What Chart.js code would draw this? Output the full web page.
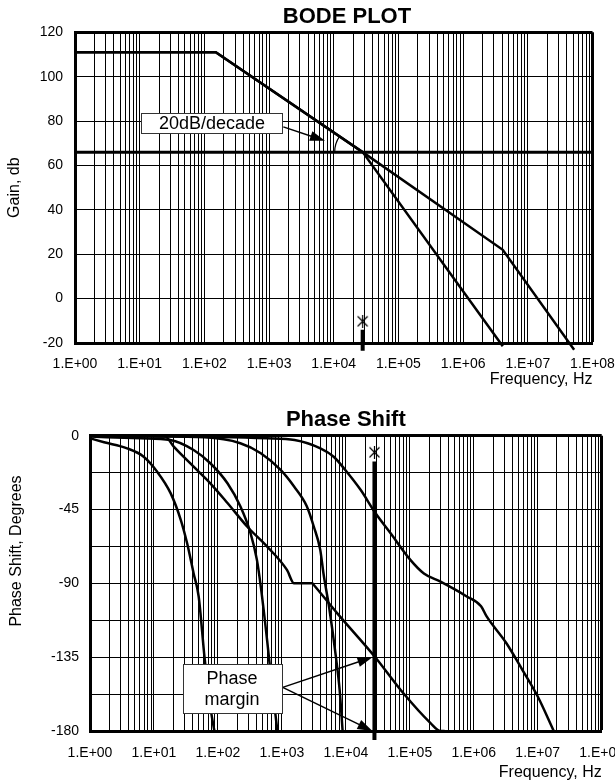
<!DOCTYPE html>
<html>
<head>
<meta charset="utf-8">
<script src="https://cdn.jsdelivr.net/npm/chart.js@4.4.0/dist/chart.umd.min.js"></script>
<style>
  html, body { margin: 0; padding: 0; background: #fff; overflow: hidden; width: 615px; height: 783px; }
  #gainChart { position: absolute; left: 0; top: 0; }
  #phaseChart { position: absolute; left: 0; top: 390px; }
</style>
</head>
<body>
<canvas id="gainChart" width="615" height="390"></canvas>
<canvas id="phaseChart" width="625" height="393"></canvas>
<script>
// frequency axis (Hz), one label per decade
var freqDecades = [1, 10, 100, 1e3, 1e4, 1e5, 1e6, 1e7, 1e8];
var freqLabels = ['1.E+00', '1.E+01', '1.E+02', '1.E+03', '1.E+04', '1.E+05', '1.E+06', '1.E+07', '1.E+08'];
var phaseLabels = [0, -45, -90, -135, -180];

// crossover frequency (marked with * on both plots)
var crossFreq = 2.8e4;

// gain plot
var openLoopFreq = [1, 150, 2.8e4, 4.1e6, 5.2e7];
var openLoopGain = [111, 111, 66, 22, -23];
var steepFreq = [1, 150, 2.8e4, 4.1e6];
var steepGain = [111, 111, 66, -21.5];
var closedFreq = [1, 1e8];
var closedGain = [66, 66];

// phase plot
var phaseAFreq = [1, 1.66, 3.8, 6.9, 11.2, 18.2, 26.3, 33, 41.7, 50, 61.7, 75.9, 88];
var phaseA = [-1.6, -4, -7.7, -12.8, -21.9, -35, -51.4, -65.6, -84, -98, -135, -165, -180];
var phaseBFreq = [1, 6.2, 18, 41.7, 76, 141, 224, 324, 407, 468, 589, 676, 851];
var phaseB = [-0.5, -1.6, -2.6, -8.7, -16.8, -29, -43, -59.5, -75.7, -92, -125, -147, -180];
var phaseCFreq = [1, 15, 20.4, 41.7, 76, 141, 288, 589, 1200, 1550, 3000, 3160, 7240, 28800, 79400, 209000, 302000, 350000];
var phaseC = [0, -0.5, -6.7, -18.9, -29, -41, -55.5, -67.6, -81.8, -90, -90, -91, -108, -135, -157, -175, -180, -180];
var phaseDFreq = [1, 62, 224, 468, 955, 1550, 2450, 3160, 3980, 4470, 5500, 7000, 8000, 8900];
var phaseD = [0, -1, -4.6, -10.7, -20.9, -31, -43, -55.5, -69.6, -84, -105, -135, -155, -180];
var phaseEFreq = [1, 589, 1580, 4000, 6460, 9800, 17000, 28800, 50100, 102000, 166000, 302000, 776000, 1.3e6, 1.58e6, 3.24e6, 5.75e6, 1e7, 1.78e7];
var phaseE = [0, -1.6, -2.6, -7.7, -12.8, -20.9, -33, -47, -59.5, -75.7, -84, -89, -98, -104, -110, -126.5, -142.7, -159, -180];

Chart.defaults.font.family = '"Liberation Sans", Arial, sans-serif';
Chart.defaults.color = '#000';

function pts(xs, ys) {
    return xs.map(function (x, i) { return { x: x, y: ys[i] }; });
}

// vertical grid at 1..9 of every decade
var gridFreqs = [];
freqDecades.forEach(function (d, i) {
    if (i === freqDecades.length - 1) { gridFreqs.push(d); return; }
    for (var k = 1; k <= 9; k++) gridFreqs.push(d * k);
});

function starMarker() {
    var c = document.createElement('canvas');
    c.width = 13; c.height = 13;
    var g = c.getContext('2d');
    g.strokeStyle = '#000';
    g.lineWidth = 1.2;
    g.beginPath();
    g.moveTo(1.5, 1.5); g.lineTo(11.5, 11.5);
    g.moveTo(11.5, 1.5); g.lineTo(1.5, 11.5);
    g.moveTo(6.5, 0); g.lineTo(6.5, 13);
    g.stroke();
    return c;
}
var star = starMarker();

function drawArrow(ctx, x0, y0, x1, y1) {
    var a = Math.atan2(y1 - y0, x1 - x0), len = 15, half = 5;
    ctx.beginPath();
    ctx.moveTo(x0, y0);
    ctx.lineTo(x1 - Math.cos(a) * len * 0.7, y1 - Math.sin(a) * len * 0.7);
    ctx.stroke();
    ctx.beginPath();
    ctx.moveTo(x1, y1);
    ctx.lineTo(x1 - len * Math.cos(a) + half * Math.sin(a), y1 - len * Math.sin(a) - half * Math.cos(a));
    ctx.lineTo(x1 - len * Math.cos(a) - half * Math.sin(a), y1 - len * Math.sin(a) + half * Math.cos(a));
    ctx.closePath();
    ctx.fill();
}

// boxes, arrows, the slope arc and loose labels
function makeNotes(notes) {
    return {
        id: 'notes',
        afterDraw: function (chart) {
            var ctx = chart.ctx, xs = chart.scales.x, ys = chart.scales.y;
            function px(p) { return [xs.getPixelForValue(p[0]), ys.getPixelForValue(p[1])]; }
            ctx.save();
            ctx.strokeStyle = '#000';
            ctx.fillStyle = '#000';

            (notes.arcs || []).forEach(function (n) {
                var c = px(n.center), o = px(n.along);
                var a = Math.atan2(o[1] - c[1], o[0] - c[0]);
                if (a < 0) a += 2 * Math.PI;
                ctx.lineWidth = 1.2;
                ctx.beginPath();
                ctx.arc(c[0], c[1], n.r, Math.PI, a, false);
                ctx.stroke();
            });

            (notes.arrows || []).forEach(function (n) {
                var s = px(n.from), t = px(n.to);
                ctx.lineWidth = 1.5;
                drawArrow(ctx, s[0], s[1], t[0] + (n.dx || 0), t[1]);
            });

            (notes.boxes || []).forEach(function (n) {
                var c = px(n.at);
                var x = Math.round(c[0] - n.w / 2) + 0.5, y = Math.round(c[1] - n.h / 2) + 0.5;
                ctx.fillStyle = '#fff';
                ctx.fillRect(x, y, n.w, n.h);
                ctx.strokeStyle = '#333';
                ctx.lineWidth = 1;
                ctx.strokeRect(x, y, n.w, n.h);
                ctx.fillStyle = '#000';
                ctx.font = '18px "Liberation Sans", Arial, sans-serif';
                ctx.textAlign = 'center';
                ctx.textBaseline = 'middle';
                n.lines.forEach(function (t, i) {
                    var dy = (i - (n.lines.length - 1) / 2) * (n.gap || 20);
                    ctx.fillText(t, c[0], c[1] + dy + 1);
                });
            });

            (notes.texts || []).forEach(function (n) {
                ctx.save();
                ctx.translate(n.x, n.y);
                if (n.rotate) ctx.rotate(n.rotate);
                ctx.font = n.font;
                ctx.textAlign = 'center';
                ctx.textBaseline = 'middle';
                ctx.fillStyle = '#000';
                ctx.fillText(n.text, 0, 0);
                ctx.restore();
            });
            ctx.restore();
        }
    };
}

function freqAxis(height, tickPad) {
    return {
        type: 'logarithmic',
        min: 1,
        max: 1e8,
        afterBuildTicks: function (scale) {
            scale.ticks = gridFreqs.map(function (v) { return { value: v }; });
        },
        afterFit: function (scale) {
            scale.height = height;
            // let the layout padding decide the plot width, not the end labels
            scale.paddingLeft = 0;
            scale.paddingRight = 0;
        },
        grid: {
            color: '#000',
            drawTicks: false,
            lineWidth: function (c) { return c.tick && c.tick.value === 1e8 ? 3 : 1; }
        },
        border: { color: '#000', width: 3 },
        ticks: {
            autoSkip: false,
            maxRotation: 0,
            padding: tickPad,
            font: { size: 14 },
            callback: function (value) {
                var i = freqDecades.indexOf(value);
                return i >= 0 ? freqLabels[i] : '';
            }
        },
        title: {
            display: true,
            text: 'Frequency, Hz',
            align: 'end',
            font: { size: 16 },
            padding: { top: 0, bottom: 1 }
        }
    };
}

function lineSet(data, width, extra) {
    var ds = {
        data: data,
        borderColor: '#000',
        borderWidth: width,
        pointRadius: 0,
        fill: false
    };
    for (var k in extra) ds[k] = extra[k];
    return ds;
}

var gainNotes = {
    boxes: [{ at: [131, 79], w: 141, h: 20, lines: ['20dB/decade'] }],
    arrows: [{ from: [1660, 77.4], to: [7330, 71.1] }],
    arcs: [{ center: [crossFreq, 66], along: [150, 111], r: 28 }],
    texts: [{ text: 'BODE PLOT', x: 347, y: 17, font: 'bold 22px "Liberation Sans", Arial, sans-serif' }]
};

new Chart(document.getElementById('gainChart'), {
    type: 'line',
    data: {
        datasets: [
            lineSet(pts(closedFreq, closedGain), 3, {}),
            lineSet(pts(openLoopFreq, openLoopGain), 2.5, { clip: false }),
            lineSet(pts(steepFreq, steepGain), 2.5, { clip: false }),
            lineSet(pts([crossFreq, crossFreq], [-14, -23.5]), 4, { clip: false }),
            lineSet([{ x: crossFreq, y: -10.2 }], 0, { showLine: false, pointRadius: 7, pointStyle: star, clip: false })
        ]
    },
    options: {
        responsive: false,
        animation: false,
        events: [],
        layout: { padding: { left: 0, right: 22.5, top: 32.3, bottom: 0 }, autoPadding: false },
        plugins: {
            legend: { display: false },
            tooltip: { enabled: false },
            title: { display: false }
        },
        scales: {
            x: freqAxis(47, 13),
            y: {
                min: -20,
                max: 120,
                afterFit: function (scale) { scale.width = 75; },
                grid: {
                    color: '#000',
                    drawTicks: false,
                    lineWidth: function (c) { return c.tick && c.tick.value === 120 ? 3 : 1; }
                },
                border: { color: '#000', width: 3 },
                ticks: { stepSize: 20, padding: 12, font: { size: 14 } },
                title: { display: true, text: 'Gain, db', font: { size: 16 }, padding: { top: 5, bottom: 0 } }
            }
        }
    },
    plugins: [makeNotes(gainNotes)]
});

var phaseNotes = {
    boxes: [{ at: [166, -154], w: 99, h: 49, lines: ['Phase', 'margin'], gap: 21 }],
    arrows: [
        { from: [1030, -153.4], to: [crossFreq, -135], dx: -2 },
        { from: [1030, -153.4], to: [crossFreq, -180], dx: -2 }
    ],
    texts: [{ text: 'Phase Shift, Degrees', x: 17, y: 161, rotate: -Math.PI / 2, font: '16px "Liberation Sans", Arial, sans-serif' }]
};

var smooth = { cubicInterpolationMode: 'monotone' };

new Chart(document.getElementById('phaseChart'), {
    type: 'line',
    data: {
        datasets: [
            lineSet(pts(phaseAFreq, phaseA), 2.5, smooth),
            lineSet(pts(phaseBFreq, phaseB), 2.5, smooth),
            lineSet(pts(phaseCFreq, phaseC), 2.5, smooth),
            lineSet(pts(phaseDFreq, phaseD), 2.5, smooth),
            lineSet(pts(phaseEFreq, phaseE), 2.5, smooth),
            lineSet(pts([crossFreq, crossFreq], [-15.8, -185.5]), 4, { clip: false }),
            lineSet([{ x: crossFreq, y: -10.1 }], 0, { showLine: false, pointRadius: 7, pointStyle: star, clip: false })
        ]
    },
    options: {
        responsive: false,
        animation: false,
        events: [],
        layout: { padding: { left: 0, right: 23.3, top: 0, bottom: 0 }, autoPadding: false },
        plugins: {
            legend: { display: false },
            tooltip: { enabled: false },
            title: {
                display: true,
                text: 'Phase Shift',
                fullSize: false,
                font: { size: 22, weight: 'bold' },
                padding: { top: 17, bottom: 2.3 }
            }
        },
        scales: {
            x: freqAxis(52, 14),
            y: {
                min: -180,
                max: 0,
                afterFit: function (scale) { scale.width = 90; },
                grid: {
                    color: '#000',
                    drawTicks: false,
                    lineWidth: function (c) { return c.tick && c.tick.value === 0 ? 3 : 1; }
                },
                border: { color: '#000', width: 3 },
                ticks: {
                    stepSize: 22.5,
                    padding: 11,
                    font: { size: 14 },
                    callback: function (value) {
                        return phaseLabels.indexOf(value) >= 0 ? String(value) : '';
                    }
                },
                title: { display: false }
            }
        }
    },
    plugins: [makeNotes(phaseNotes)]
});
</script>
</body>
</html>
